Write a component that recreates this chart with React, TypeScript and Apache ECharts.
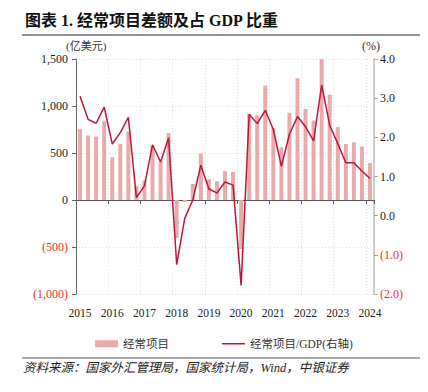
import React, { useEffect, useRef } from "react";
import * as echarts from "echarts";

const years = ["2015", "2016", "2017", "2018", "2019", "2020", "2021", "2022", "2023", "2024"];
const quarters: string[] = [];
years.forEach((y) => ["Q1", "Q2", "Q3", "Q4"].forEach((q) => quarters.push(y + q)));
const categories = quarters.slice(0, 37); // 2015Q1 – 2024Q1

// 经常项目差额 (亿美元)
const currentAccount = [
  754, 686, 675, 843,
  454, 596, 729, 150,
  207, 580, 411, 714,
  -404, -21, 171, 493,
  221, 200, 307, 300,
  -521, 914, 900, 1218,
  768, 561, 929, 1296,
  968, 846, 1500, 1121,
  775, 596, 614, 568,
  393,
];

// 经常项目/GDP (%)
const caToGdp = [
  3.05, 2.46, 2.36, 2.77,
  1.83, 2.12, 2.51, 0.46,
  0.76, 1.81, 1.37, 1.99,
  -1.25, -0.07, 0.4, 1.29,
  0.68, 0.58, 0.86, 0.78,
  -1.78, 2.59, 2.35, 2.69,
  2.2, 1.26, 2.08, 2.53,
  2.27, 1.91, 3.34, 2.31,
  1.84, 1.35, 1.35, 1.14,
  0.95,
];

const leftTicks = { min: -1000, max: 1500, interval: 500 };
const rightTicks = { min: -2, max: 4, interval: 1 };

const SERIF = "'Liberation Serif', 'Times New Roman', 'Noto Sans CJK SC', serif";
const CJK = "'Liberation Serif', 'Noto Sans CJK SC', serif";
const BAR_COLOR = "#E8ABAB";
const LINE_COLOR = "#B8173C";

function fmtLeft(v: number) {
  const s = Math.abs(v).toLocaleString("en-US");
  return v < 0 ? "(" + s + ")" : s;
}
function fmtRight(v: number) {
  const s = Math.abs(v).toFixed(1);
  return v < 0 ? "(" + s + ")" : s;
}

export default function App() {
  const ref = useRef<HTMLDivElement>(null);
  useEffect(() => {
    if (!ref.current) return;
    const chart = echarts.init(ref.current, null, { renderer: "svg" });
    const yearBoundary = (i: number) => i % 4 === 0 && i > 0;
    chart.setOption({
      animation: false,
      backgroundColor: "#fff",
      title: {
        text: "图表 1. 经常项目差额及占 GDP 比重",
        left: 20,
        top: 7,
        textStyle: { fontFamily: CJK, fontSize: 16, fontWeight: "bold", color: "#111" },
      },
      graphic: [
        { type: "line", shape: { x1: 22, y1: 35, x2: 420, y2: 35 }, style: { stroke: "#222", lineWidth: 1 } },
        { type: "line", shape: { x1: 22, y1: 358, x2: 420, y2: 358 }, style: { stroke: "#555", lineWidth: 1 } },
        { type: "text", left: 66, top: 40, style: { text: "(亿美元)", font: "11px " + CJK, fill: "#333" } },
        { type: "text", left: 362, top: 40, style: { text: "(%)", font: "12px " + SERIF, fill: "#333" } },
        {
          type: "text",
          left: 23,
          top: 362,
          style: {
            text: "资料来源：国家外汇管理局，国家统计局，Wind，中银证券",
            font: "italic 12.5px " + CJK,
            fill: "#222",
          },
        },
      ],
      legend: [
        {
          left: 90,
          top: 333,
          itemWidth: 23,
          itemHeight: 7,
          icon: "rect",
          data: ["经常项目"],
          textStyle: { fontFamily: CJK, fontSize: 11.5, color: "#333" },
        },
        {
          left: 217,
          top: 333,
          itemWidth: 23,
          itemHeight: 1.5,
          icon: "rect",
          data: ["经常项目/GDP(右轴)"],
          textStyle: { fontFamily: CJK, fontSize: 11.5, color: "#333" },
        },
      ],
      grid: { left: 76, right: 54, top: 59, height: 235 },
      xAxis: [
        {
          type: "category",
          data: categories,
          position: "bottom",
          axisLine: { show: false, onZero: false },
          axisTick: { show: false },
          axisLabel: {
            interval: (i: number) => i % 4 === 0,
            formatter: (v: string) => v.slice(0, 4),
            margin: 13,
            fontFamily: SERIF,
            fontSize: 11.5,
            color: "#222",
          },
          splitLine: {
            show: true,
            interval: yearBoundary,
            lineStyle: { color: "#ddd", type: [1, 2], width: 1 },
          },
        },
        {
          type: "category",
          data: categories,
          position: "bottom",
          axisLine: { show: true, onZero: true, onZeroAxisIndex: 0, lineStyle: { color: "#555", width: 1 } },
          axisTick: { show: true, interval: yearBoundary, length: 4, lineStyle: { color: "#555" } },
          axisLabel: { show: false },
          splitLine: { show: false },
        },
      ],
      yAxis: [
        {
          type: "value",
          ...leftTicks,
          position: "left",
          axisLine: { show: true, lineStyle: { color: "#666", width: 1 } },
          axisTick: { show: true, length: 4, lineStyle: { color: "#666" } },
          axisLabel: {
            formatter: fmtLeft,
            margin: 8,
            fontFamily: SERIF,
            fontSize: 12,
            color: (v: any) => (Number(v) < 0 ? "#E8302E" : "#222"),
          },
          splitLine: { show: true, lineStyle: { color: "#ddd", type: [1, 2], width: 1 } },
        },
        {
          type: "value",
          ...rightTicks,
          position: "right",
          axisLine: { show: true, lineStyle: { color: "#ccc", width: 2 } },
          axisTick: { show: true, length: 4, lineStyle: { color: "#aaa" } },
          axisLabel: {
            formatter: fmtRight,
            margin: 6,
            fontFamily: SERIF,
            fontSize: 12,
            color: (v: any) => (Number(v) < 0 ? "#E8302E" : "#222"),
          },
          splitLine: { show: false },
        },
      ],
      series: [
        {
          name: "经常项目",
          type: "bar",
          xAxisIndex: 0,
          yAxisIndex: 0,
          data: currentAccount,
          barWidth: "50%",
          itemStyle: { color: BAR_COLOR },
        },
        {
          name: "经常项目/GDP(右轴)",
          type: "line",
          xAxisIndex: 0,
          yAxisIndex: 1,
          data: caToGdp,
          symbol: "none",
          lineStyle: { color: LINE_COLOR, width: 1.5 },
          itemStyle: { color: LINE_COLOR },
        },
      ],
    });
    return () => chart.dispose();
  }, []);
  return (
    <div
      ref={ref}
      style={{ position: "absolute", left: 0, top: 0, width: 428, height: 392 }}
    />
  );
}
